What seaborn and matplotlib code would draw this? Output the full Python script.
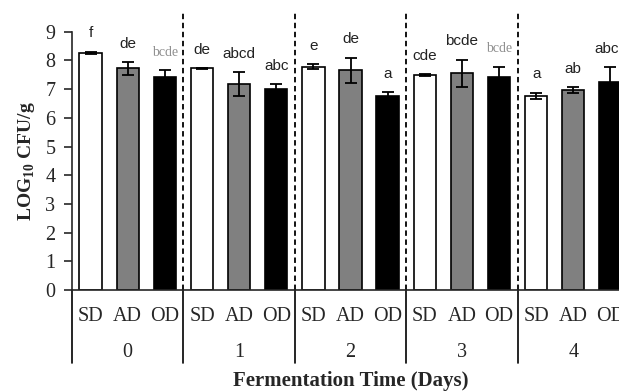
import numpy as np
import pandas as pd
import matplotlib
matplotlib.use('Agg')
import matplotlib.pyplot as plt
import seaborn as sns

# Data
days = ['0', '1', '2', '3', '4']
treatments = ['SD', 'AD', 'OD']
sd_mean = [8.27, 7.72, 7.78, 7.48, 6.76]
ad_mean = [7.72, 7.18, 7.65, 7.55, 6.96]
od_mean = [7.43, 7.01, 6.76, 7.42, 7.26]
sd_err = [0.04, 0.03, 0.09, 0.03, 0.12]
ad_err = [0.23, 0.42, 0.45, 0.48, 0.11]
od_err = [0.22, 0.16, 0.13, 0.35, 0.50]
sd_letters = ['f', 'de', 'e', 'cde', 'a']
ad_letters = ['de', 'abcd', 'de', 'bcde', 'ab']
od_letters = ['bcde', 'abc', 'a', 'bcde', 'abcd']
grey_letters = [('0', 'OD'), ('3', 'OD')]

rows = []
for i, d in enumerate(days):
    rows.append([d, 'SD', sd_mean[i], sd_err[i], sd_letters[i]])
    rows.append([d, 'AD', ad_mean[i], ad_err[i], ad_letters[i]])
    rows.append([d, 'OD', od_mean[i], od_err[i], od_letters[i]])
df = pd.DataFrame(rows, columns=['day', 'treatment', 'value', 'err', 'letter'])
df['key'] = df['day'] + '-' + df['treatment']

sns.set_style('ticks')
plt.rcParams['font.family'] = ['Liberation Serif', 'DejaVu Serif']
plt.rcParams['mathtext.fontset'] = 'custom'
plt.rcParams['mathtext.rm'] = 'Liberation Serif'
plt.rcParams['mathtext.bf'] = 'Liberation Serif:bold'

fig = plt.figure(figsize=(6.19, 3.91), dpi=100)
ax = fig.add_axes([72 / 619, 101 / 391, 557 / 619, 258.3 / 391])

palette = {'SD': 'white', 'AD': '#808080', 'OD': 'black'}
sns.barplot(data=df, x='key', y='value', hue='treatment', order=list(df['key']),
            hue_order=treatments, palette=palette, dodge=False, width=0.6,
            edgecolor='black', linewidth=1.2, errorbar=None, legend=False,
            saturation=1, ax=ax)

pos = np.arange(len(df))
ax.errorbar(pos, df['value'], yerr=df['err'], fmt='none', ecolor='black',
            elinewidth=1.3, capsize=4, capthick=1.3)

# significance letters
for i, r in df.iterrows():
    grey = (r['day'], r['treatment']) in grey_letters
    ax.annotate(r['letter'], xy=(i, r['value'] + r['err']), xytext=(0, 13),
                textcoords='offset points', ha='center', va='center',
                fontsize=10 if grey else 11,
                family='Liberation Serif' if grey else 'Liberation Sans',
                color='#909090' if grey else '#222222', annotation_clip=False)

ax.set_xlim(-0.5, 14.5)
ax.set_ylim(0, 9)
ax.set_yticks(range(10))
ax.set_xticks(pos)
ax.set_xticklabels(df['treatment'])
ax.tick_params(axis='x', length=0, pad=12, labelsize=14.5)
ax.tick_params(axis='y', length=6, width=1.2, pad=6, labelsize=14.5, direction='out')
ax.set_xlabel('')
ax.set_ylabel('LOG$_{\\mathbf{10}}$ CFU/g', fontsize=14, fontweight='bold', labelpad=6)
sns.despine(ax=ax)
for s in ['left', 'bottom']:
    ax.spines[s].set_linewidth(1.2)

# group separators
xtr = ax.get_xaxis_transform()
for b in [2.5, 5.5, 8.5, 11.5]:
    ax.plot([b, b], [0, 1.075], transform=xtr, color='black', lw=1.3,
            ls=(0, (3, 2)), clip_on=False)
for b in [-0.5, 2.5, 5.5, 8.5, 11.5, 14.5]:
    ax.plot([b, b], [0, -0.283], transform=xtr, color='black', lw=1.2, clip_on=False)
for i, d in enumerate(days):
    ax.text(3 * i + 1, -0.243, d, transform=xtr, ha='center', va='center', fontsize=14.5)
ax.text(0.5, -0.352, 'Fermentation Time (Days)', transform=ax.transAxes,
        ha='center', va='center', fontsize=15, fontweight='bold')

fig.savefig('out.png', dpi=100)
